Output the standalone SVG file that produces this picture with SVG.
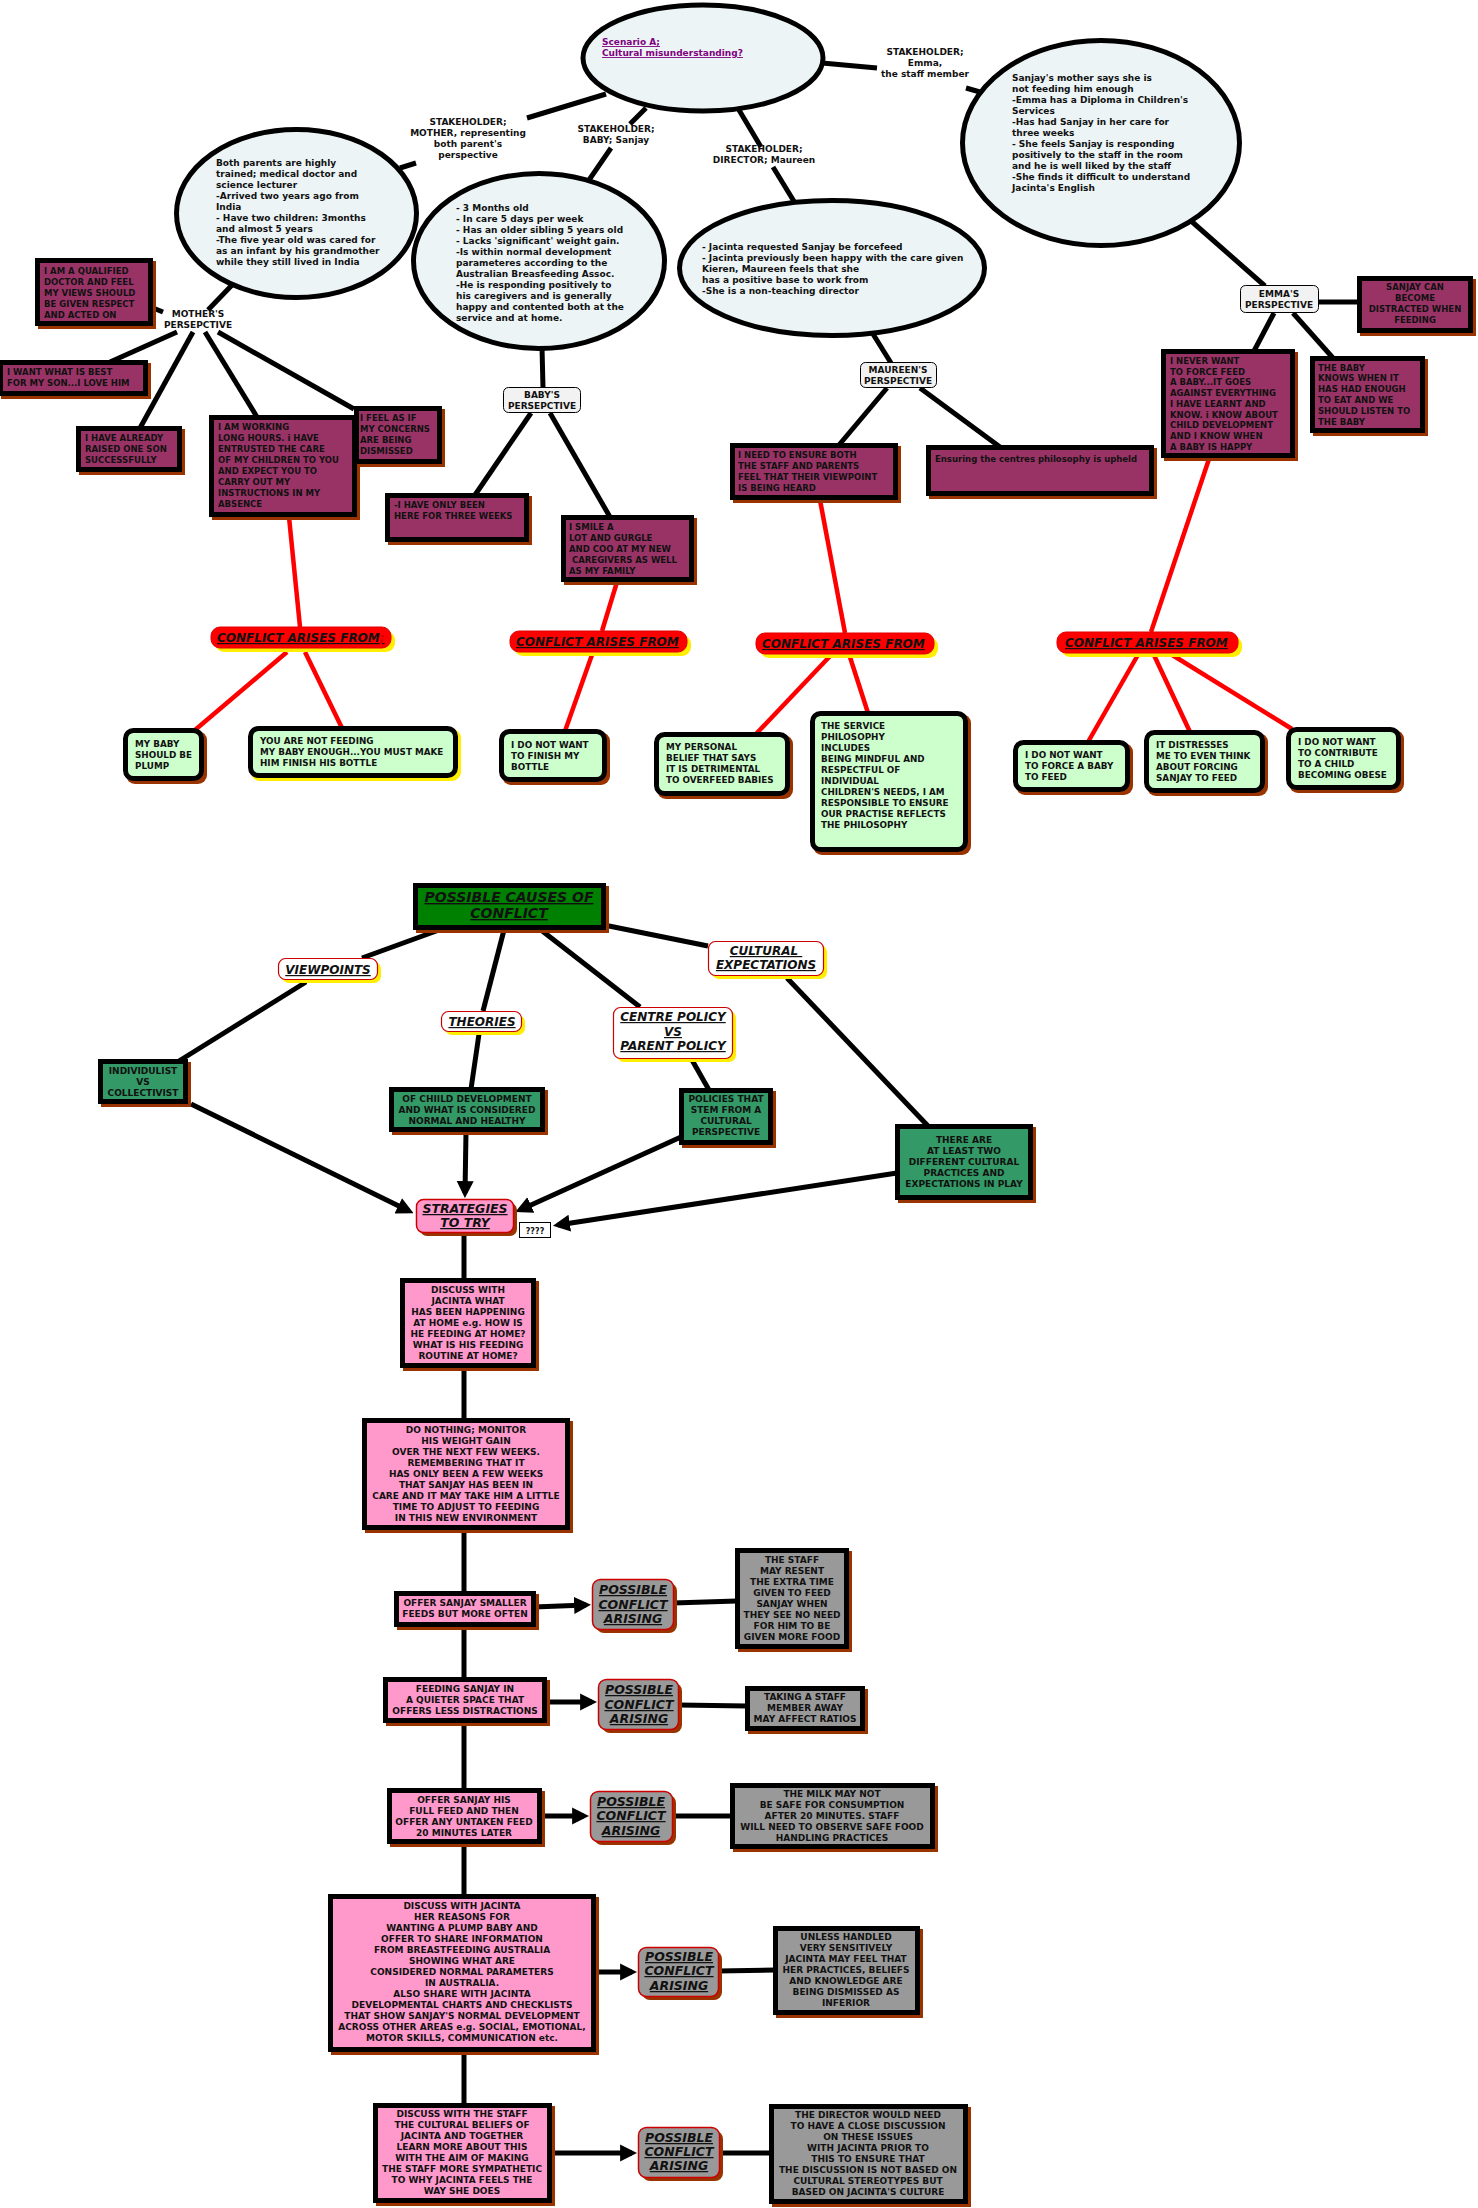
<svg xmlns="http://www.w3.org/2000/svg" width="1478" height="2208" viewBox="0 0 1478 2208">
<defs>
<style>
.ln{stroke:#000;stroke-width:5;fill:none}
.rl{stroke:#ff0000;stroke-width:4.5;fill:none}
.ell{fill:#ecf4f6;stroke:#000;stroke-width:5}
.pur{fill:#993366;stroke:#000;stroke-width:5}
.grn{fill:#ccffcc;stroke:#000;stroke-width:5}
.dg{fill:#339966;stroke:#000;stroke-width:5}
.cau{fill:#008000;stroke:#000;stroke-width:5}
.pk{fill:#ff99cc;stroke:#000;stroke-width:5}
.gy{fill:#999999;stroke:#000;stroke-width:5}
.sh{fill:#993300}
.shy{fill:#ffee00}
.con{fill:#ff0000;stroke:#e00000;stroke-width:1}
.per{fill:#f2f2f2;stroke:#000;stroke-width:1}
.cat{fill:#fff;stroke:#cc0000;stroke-width:1.2}
.pca{fill:#999999;stroke:#cc0000;stroke-width:1.5}
.str{fill:#ff99cc;stroke:#cc0000;stroke-width:1.5}
.q{fill:#fff;stroke:#000;stroke-width:1}
.t{font-family:"DejaVu Sans",Verdana,sans-serif;font-weight:bold;font-size:9px;fill:#111}
.p{font-size:8.5px}
.g{font-size:8.8px}
.c{text-anchor:middle}
.hd{font-style:italic;text-decoration:underline}
.f12{font-size:12px}
.f125{font-size:12.5px}
.f14{font-size:14px}
.ttl{fill:#800080;text-decoration:underline}
</style>
<marker id="ah" viewBox="0 0 10 10" markerUnits="userSpaceOnUse" markerWidth="17" markerHeight="19" refX="7" refY="5" orient="auto">
<path d="M0,0 L10,5 L0,10 z" fill="#000"/>
</marker>
</defs>
<rect width="1478" height="2208" fill="#fff"/>

<g id="connectors">
<path class="ln" d="M606,94 L527,118"/>
<path class="ln" d="M416,163 L400,168"/>
<path class="ln" d="M646,108 L630,124"/>
<path class="ln" d="M611,148 L589,180"/>
<path class="ln" d="M739,110 L761,147"/>
<path class="ln" d="M773,167 L795,203"/>
<path class="ln" d="M822,63 L877,68"/>
<path class="ln" d="M966,88 L980,92"/>
<path class="ln" d="M232,285 L208,310"/>
<path class="ln" d="M153,308 L163,312"/>
<path class="ln" d="M177,332 L110,362"/>
<path class="ln" d="M193,332 L140,428"/>
<path class="ln" d="M205,332 L257,417"/>
<path class="ln" d="M218,332 L354,409"/>
<path class="ln" d="M542,347 L543,388"/>
<path class="ln" d="M531,413 L475,495"/>
<path class="ln" d="M550,413 L610,517"/>
<path class="ln" d="M873,334 L891,363"/>
<path class="ln" d="M887,388 L839,445"/>
<path class="ln" d="M920,388 L1000,447"/>
<path class="ln" d="M1190,220 L1265,286"/>
<path class="ln" d="M1319,302 L1359,302"/>
<path class="ln" d="M1274,313 L1254,351"/>
<path class="ln" d="M1293,313 L1333,358"/>
<path class="rl" d="M289,517 L300,627"/>
<path class="rl" d="M287,652 L195,730"/>
<path class="rl" d="M305,652 L342,728"/>
<path class="rl" d="M617,582 L602,631"/>
<path class="rl" d="M593,652 L565,731"/>
<path class="rl" d="M820,500 L845,633"/>
<path class="rl" d="M832,654 L756,734"/>
<path class="rl" d="M849,654 L868,713"/>
<path class="rl" d="M1210,456 L1151,632"/>
<path class="rl" d="M1139,653 L1088,742"/>
<path class="rl" d="M1153,653 L1190,732"/>
<path class="rl" d="M1169,653 L1292,729"/>
<path class="ln" d="M439,930 L362,958"/>
<path class="ln" d="M306,982 L179,1061"/>
<path class="ln" d="M504,930 L483,1011"/>
<path class="ln" d="M479,1034 L471,1089"/>
<path class="ln" d="M541,930 L640,1007"/>
<path class="ln" d="M692,1060 L709,1090"/>
<path class="ln" d="M604,925 L708,946"/>
<path class="ln" d="M787,978 L928,1126"/>
<path class="ln" d="M191,1104 L409,1211" marker-end="url(#ah)"/>
<path class="ln" d="M466,1132 L465,1193" marker-end="url(#ah)"/>
<path class="ln" d="M681,1137 L520,1210" marker-end="url(#ah)"/>
<path class="ln" d="M897,1173 L558,1225" marker-end="url(#ah)"/>
<path class="ln" d="M464,1233 L464,2105"/>
<path class="ln" d="M534,1607 L586,1605" marker-end="url(#ah)"/>
<path class="ln" d="M545,1702 L592,1702" marker-end="url(#ah)"/>
<path class="ln" d="M540,1816 L584,1816" marker-end="url(#ah)"/>
<path class="ln" d="M594,1972 L632,1972" marker-end="url(#ah)"/>
<path class="ln" d="M550,2153 L632,2153" marker-end="url(#ah)"/>
<path class="ln" d="M673,1603 L737,1601"/>
<path class="ln" d="M678,1705 L747,1706"/>
<path class="ln" d="M672,1816 L732,1816"/>
<path class="ln" d="M718,1971 L775,1970"/>
<path class="ln" d="M719,2153 L771,2153"/>
</g>

<g id="scenario">
<ellipse class="ell" cx="703" cy="58" rx="120" ry="53"/>
<text class="t ttl"><tspan x="602" y="45">Scenario A;</tspan><tspan x="602" y="56">Cultural misunderstanding?</tspan></text>
</g>

<g id="stakeholder-mother">
<text class="t c"><tspan x="468" y="125">STAKEHOLDER;</tspan><tspan x="468" y="136">MOTHER, representing</tspan><tspan x="468" y="147">both parent's</tspan><tspan x="468" y="158">perspective</tspan></text>
</g>
<g id="stakeholder-baby">
<text class="t c"><tspan x="616" y="132">STAKEHOLDER;</tspan><tspan x="616" y="143">BABY; Sanjay</tspan></text>
</g>
<g id="stakeholder-director">
<text class="t c"><tspan x="764" y="152">STAKEHOLDER;</tspan><tspan x="764" y="163">DIRECTOR; Maureen</tspan></text>
</g>
<g id="stakeholder-emma">
<text class="t c"><tspan x="925" y="55">STAKEHOLDER;</tspan><tspan x="925" y="66">Emma,</tspan><tspan x="925" y="77">the staff member</tspan></text>
</g>

<g id="mother-info">
<ellipse class="ell" cx="296.5" cy="213.5" rx="120" ry="84"/>
<text class="t"><tspan x="216" y="166">Both parents are highly</tspan><tspan x="216" y="177">trained; medical doctor and</tspan><tspan x="216" y="188">science lecturer</tspan><tspan x="216" y="199">-Arrived two years ago from</tspan><tspan x="216" y="210">India</tspan><tspan x="216" y="221">- Have two children: 3months</tspan><tspan x="216" y="232">and almost 5 years</tspan><tspan x="216" y="243">-The five year old was cared for</tspan><tspan x="216" y="254">as an infant by his grandmother</tspan><tspan x="216" y="265">while they still lived in India</tspan></text>
</g>

<g id="baby-info">
<ellipse class="ell" cx="539" cy="261" rx="125.5" ry="87.5"/>
<text class="t"><tspan x="456" y="211">- 3 Months old</tspan><tspan x="456" y="222">- In care 5 days per week</tspan><tspan x="456" y="233">- Has an older sibling 5 years old</tspan><tspan x="456" y="244">- Lacks 'significant' weight gain.</tspan><tspan x="456" y="255">-Is within normal development</tspan><tspan x="456" y="266">parameteres according to the</tspan><tspan x="456" y="277">Australian Breasfeeding Assoc.</tspan><tspan x="456" y="288">-He is responding positively to</tspan><tspan x="456" y="299">his caregivers and is generally</tspan><tspan x="456" y="310">happy and contented both at the</tspan><tspan x="456" y="321">service and at home.</tspan></text>
</g>

<g id="director-info">
<ellipse class="ell" cx="832" cy="268" rx="152.5" ry="67.5"/>
<text class="t"><tspan x="702" y="250">- Jacinta requested Sanjay be forcefeed</tspan><tspan x="702" y="261">- Jacinta previously been happy with the care given</tspan><tspan x="702" y="272">Kieren, Maureen feels that she</tspan><tspan x="702" y="283">has a positive base to work from</tspan><tspan x="702" y="294">-She is a non-teaching director</tspan></text>
</g>

<g id="emma-info">
<ellipse class="ell" cx="1101" cy="143" rx="138.5" ry="102.5"/>
<text class="t"><tspan x="1012" y="81">Sanjay's mother says she is</tspan><tspan x="1012" y="92">not feeding him enough</tspan><tspan x="1012" y="103">-Emma has a Diploma in Children's</tspan><tspan x="1012" y="114">Services</tspan><tspan x="1012" y="125">-Has had Sanjay in her care for</tspan><tspan x="1012" y="136">three weeks</tspan><tspan x="1012" y="147">- She feels Sanjay is responding</tspan><tspan x="1012" y="158">positively to the staff in the room</tspan><tspan x="1012" y="169">and he is well liked by the staff</tspan><tspan x="1012" y="180">-She finds it difficult to understand</tspan><tspan x="1012" y="191">Jacinta's English</tspan></text>
</g>

<g id="mothers-perspective">
<text class="t c"><tspan x="198" y="317">MOTHER'S</tspan><tspan x="198" y="328">PERSEPCTIVE</tspan></text>
</g>
<g id="babys-perspective">
<rect class="per" x="503.5" y="387.5" width="77" height="25" rx="5"/>
<text class="t c"><tspan x="542" y="398">BABY'S</tspan><tspan x="542" y="409">PERSEPCTIVE</tspan></text>
</g>
<g id="maureens-perspective">
<rect class="per" x="860.5" y="362.5" width="76" height="25" rx="5"/>
<text class="t c"><tspan x="898" y="373">MAUREEN'S</tspan><tspan x="898" y="384">PERSPECTIVE</tspan></text>
</g>
<g id="emmas-perspective">
<rect class="per" x="1240.5" y="285.5" width="78" height="27" rx="5"/>
<text class="t c"><tspan x="1279" y="297">EMMA'S</tspan><tspan x="1279" y="308">PERSPECTIVE</tspan></text>
</g>

<g id="m-qualified">
<rect class="sh" x="38" y="261" width="118" height="68"/>
<rect class="pur" x="37.5" y="260.5" width="113" height="63"/>
<text class="t p"><tspan x="44" y="274">I AM A QUALIFIED</tspan><tspan x="44" y="285">DOCTOR AND FEEL</tspan><tspan x="44" y="296">MY VIEWS SHOULD</tspan><tspan x="44" y="307">BE GIVEN RESPECT</tspan><tspan x="44" y="318">AND ACTED ON</tspan></text>
</g>
<g id="m-best">
<rect class="sh" x="1" y="363" width="150" height="36"/>
<rect class="pur" x="0.5" y="362.5" width="145" height="31"/>
<text class="t p"><tspan x="7" y="375">I WANT WHAT IS BEST</tspan><tspan x="7" y="386">FOR MY SON...I LOVE HIM</tspan></text>
</g>
<g id="m-raised">
<rect class="sh" x="79" y="429" width="106" height="46"/>
<rect class="pur" x="78.5" y="428.5" width="101" height="41"/>
<text class="t p"><tspan x="85" y="441">I HAVE ALREADY</tspan><tspan x="85" y="452">RAISED ONE SON</tspan><tspan x="85" y="463">SUCCESSFULLY</tspan></text>
</g>
<g id="m-working">
<rect class="sh" x="212" y="418" width="148" height="102"/>
<rect class="pur" x="211.5" y="417.5" width="143" height="97"/>
<text class="t p"><tspan x="218" y="430">I AM WORKING</tspan><tspan x="218" y="441">LONG HOURS. i HAVE</tspan><tspan x="218" y="452">ENTRUSTED THE CARE</tspan><tspan x="218" y="463">OF MY CHILDREN TO YOU</tspan><tspan x="218" y="474">AND EXPECT YOU TO</tspan><tspan x="218" y="485">CARRY OUT MY</tspan><tspan x="218" y="496">INSTRUCTIONS IN MY</tspan><tspan x="218" y="507">ABSENCE</tspan></text>
</g>
<g id="m-dismissed">
<rect class="sh" x="357" y="409" width="88" height="58"/>
<rect class="pur" x="356.5" y="408.5" width="83" height="53"/>
<text class="t p"><tspan x="360" y="421">I FEEL AS IF</tspan><tspan x="360" y="432">MY CONCERNS</tspan><tspan x="360" y="443">ARE BEING</tspan><tspan x="360" y="454">DISMISSED</tspan></text>
</g>
<g id="b-three-weeks">
<rect class="sh" x="388" y="496" width="144" height="49"/>
<rect class="pur" x="387.5" y="495.5" width="139" height="44"/>
<text class="t p"><tspan x="394" y="508">-I HAVE ONLY BEEN</tspan><tspan x="394" y="519">HERE FOR THREE WEEKS</tspan></text>
</g>
<g id="b-smile">
<rect class="sh" x="564" y="518" width="133" height="67"/>
<rect class="pur" x="563.5" y="517.5" width="128" height="62"/>
<text class="t p"><tspan x="569" y="530">I SMILE A</tspan><tspan x="569" y="541">LOT AND GURGLE</tspan><tspan x="569" y="552">AND COO AT MY NEW</tspan><tspan x="569" y="563"> CAREGIVERS AS WELL</tspan><tspan x="569" y="574">AS MY FAMILY</tspan></text>
</g>
<g id="d-heard">
<rect class="sh" x="733" y="446" width="168" height="57"/>
<rect class="pur" x="732.5" y="445.5" width="163" height="52"/>
<text class="t p"><tspan x="738" y="458">I NEED TO ENSURE BOTH</tspan><tspan x="738" y="469">THE STAFF AND PARENTS</tspan><tspan x="738" y="480">FEEL THAT THEIR VIEWPOINT</tspan><tspan x="738" y="491">IS BEING HEARD</tspan></text>
</g>
<g id="d-philosophy">
<rect class="sh" x="929" y="448" width="228" height="51"/>
<rect class="pur" x="928.5" y="447.5" width="223" height="46"/>
<text class="t p"><tspan x="935" y="462">Ensuring the centres philosophy is upheld</tspan></text>
</g>
<g id="e-never">
<rect class="sh" x="1164" y="352" width="134" height="109"/>
<rect class="pur" x="1163.5" y="351.5" width="129" height="104"/>
<text class="t p"><tspan x="1170" y="364">I NEVER WANT</tspan><tspan x="1170" y="375">TO FORCE FEED</tspan><tspan x="1170" y="385">A BABY...IT GOES</tspan><tspan x="1170" y="396">AGAINST EVERYTHING</tspan><tspan x="1170" y="407">I HAVE LEARNT AND</tspan><tspan x="1170" y="418">KNOW. i KNOW ABOUT</tspan><tspan x="1170" y="428">CHILD DEVELOPMENT</tspan><tspan x="1170" y="439">AND I KNOW WHEN</tspan><tspan x="1170" y="450">A BABY IS HAPPY</tspan></text>
</g>
<g id="e-knows">
<rect class="sh" x="1313" y="359" width="115" height="77"/>
<rect class="pur" x="1312.5" y="358.5" width="110" height="72"/>
<text class="t p"><tspan x="1318" y="371">THE BABY</tspan><tspan x="1318" y="381">KNOWS WHEN IT</tspan><tspan x="1318" y="392">HAS HAD ENOUGH</tspan><tspan x="1318" y="403">TO EAT AND WE</tspan><tspan x="1318" y="414">SHOULD LISTEN TO</tspan><tspan x="1318" y="425">THE BABY</tspan></text>
</g>
<g id="e-distracted">
<rect class="sh" x="1360" y="279" width="116" height="57"/>
<rect class="pur" x="1359.5" y="278.5" width="111" height="52"/>
<text class="t p c"><tspan x="1415" y="290">SANJAY CAN</tspan><tspan x="1415" y="301">BECOME</tspan><tspan x="1415" y="312">DISTRACTED WHEN</tspan><tspan x="1415" y="323">FEEDING</tspan></text>
</g>

<g id="conflict-1">
<rect class="shy" x="215" y="631" width="180" height="21" rx="9"/>
<rect class="con" x="211" y="627" width="180" height="21" rx="9"/>
<text class="t hd f12" x="217" y="642" fill="#1a0000">CONFLICT ARISES FROM<tspan fill="#cc0000" style="text-decoration:none">;</tspan></text>
</g>
<g id="conflict-2">
<rect class="shy" x="514" y="635" width="177" height="21" rx="9"/>
<rect class="con" x="510" y="631" width="177" height="21" rx="9"/>
<text class="t hd f12" x="516" y="646">CONFLICT ARISES FROM</text>
</g>
<g id="conflict-3">
<rect class="shy" x="760" y="637" width="178" height="21" rx="9"/>
<rect class="con" x="756" y="633" width="178" height="21" rx="9"/>
<text class="t hd f12" x="762" y="648">CONFLICT ARISES FROM</text>
</g>
<g id="conflict-4">
<rect class="shy" x="1061" y="636" width="181" height="21" rx="9"/>
<rect class="con" x="1057" y="632" width="181" height="21" rx="9"/>
<text class="t hd f12" x="1065" y="647">CONFLICT ARISES FROM</text>
</g>

<g id="c-plump">
<rect class="sh" x="126" y="731" width="81" height="53" rx="9"/>
<rect class="grn" x="125.5" y="730.5" width="76" height="48" rx="8"/>
<text class="t g"><tspan x="135" y="747">MY BABY</tspan><tspan x="135" y="758">SHOULD BE</tspan><tspan x="135" y="769">PLUMP</tspan></text>
</g>
<g id="c-not-feeding">
<rect class="shy" x="251" y="729" width="210" height="52" rx="9"/>
<rect class="grn" x="250.5" y="728.5" width="205" height="47" rx="8"/>
<text class="t g"><tspan x="260" y="744">YOU ARE NOT FEEDING</tspan><tspan x="260" y="755">MY BABY ENOUGH...YOU MUST MAKE</tspan><tspan x="260" y="766">HIM FINISH HIS BOTTLE</tspan></text>
</g>
<g id="c-bottle">
<rect class="sh" x="502" y="732" width="108" height="53" rx="9"/>
<rect class="grn" x="501.5" y="731.5" width="103" height="48" rx="8"/>
<text class="t g"><tspan x="511" y="748">I DO NOT WANT</tspan><tspan x="511" y="759">TO FINISH MY</tspan><tspan x="511" y="770">BOTTLE</tspan></text>
</g>
<g id="c-personal">
<rect class="sh" x="657" y="735" width="136" height="64" rx="9"/>
<rect class="grn" x="656.5" y="734.5" width="131" height="59" rx="8"/>
<text class="t g"><tspan x="666" y="750">MY PERSONAL</tspan><tspan x="666" y="761">BELIEF THAT SAYS</tspan><tspan x="666" y="772">IT IS DETRIMENTAL</tspan><tspan x="666" y="783">TO OVERFEED BABIES</tspan></text>
</g>
<g id="c-service">
<rect class="sh" x="813" y="714" width="158" height="141" rx="9"/>
<rect class="grn" x="812.5" y="713.5" width="153" height="136" rx="8"/>
<text class="t g"><tspan x="821" y="729">THE SERVICE</tspan><tspan x="821" y="740">PHILOSOPHY</tspan><tspan x="821" y="751">INCLUDES</tspan><tspan x="821" y="762">BEING MINDFUL AND</tspan><tspan x="821" y="773">RESPECTFUL OF</tspan><tspan x="821" y="784">INDIVIDUAL</tspan><tspan x="821" y="795">CHILDREN'S NEEDS, I AM</tspan><tspan x="821" y="806">RESPONSIBLE TO ENSURE</tspan><tspan x="821" y="817">OUR PRACTISE REFLECTS</tspan><tspan x="821" y="828">THE PHILOSOPHY</tspan></text>
</g>
<g id="c-force">
<rect class="sh" x="1016" y="743" width="117" height="52" rx="9"/>
<rect class="grn" x="1015.5" y="742.5" width="112" height="47" rx="8"/>
<text class="t g"><tspan x="1025" y="758">I DO NOT WANT</tspan><tspan x="1025" y="769">TO FORCE A BABY</tspan><tspan x="1025" y="780">TO FEED</tspan></text>
</g>
<g id="c-distresses">
<rect class="sh" x="1147" y="733" width="121" height="63" rx="9"/>
<rect class="grn" x="1146.5" y="732.5" width="116" height="58" rx="8"/>
<text class="t g"><tspan x="1156" y="748">IT DISTRESSES</tspan><tspan x="1156" y="759">ME TO EVEN THINK</tspan><tspan x="1156" y="770">ABOUT FORCING</tspan><tspan x="1156" y="781">SANJAY TO FEED</tspan></text>
</g>
<g id="c-obese">
<rect class="sh" x="1289" y="730" width="115" height="63" rx="9"/>
<rect class="grn" x="1288.5" y="729.5" width="110" height="58" rx="8"/>
<text class="t g"><tspan x="1298" y="745">I DO NOT WANT</tspan><tspan x="1298" y="756">TO CONTRIBUTE</tspan><tspan x="1298" y="767">TO A CHILD</tspan><tspan x="1298" y="778">BECOMING OBESE</tspan></text>
</g>

<g id="possible-causes">
<rect class="sh" x="416" y="886" width="193" height="47"/>
<rect class="cau" x="415.5" y="885.5" width="188" height="42"/>
<text class="t hd f14 c" fill="#111"><tspan x="509" y="902">POSSIBLE CAUSES OF</tspan><tspan x="509" y="918">CONFLICT</tspan></text>
</g>
<g id="viewpoints">
<rect class="shy" x="282" y="962" width="99" height="21" rx="7"/>
<rect class="cat" x="278.5" y="958.5" width="99" height="21" rx="7"/>
<text class="t hd f12 c" x="328" y="974">VIEWPOINTS</text>
</g>
<g id="theories">
<rect class="shy" x="445" y="1015" width="80" height="20" rx="7"/>
<rect class="cat" x="441.5" y="1011.5" width="80" height="20" rx="7"/>
<text class="t hd f12 c" x="482" y="1026">THEORIES</text>
</g>
<g id="centre-policy">
<rect class="shy" x="617" y="1011" width="119" height="51" rx="7"/>
<rect class="cat" x="613.5" y="1007.5" width="119" height="51" rx="7"/>
<text class="t hd f12 c"><tspan x="673" y="1021">CENTRE POLICY</tspan><tspan x="673" y="1036">VS</tspan><tspan x="673" y="1050">PARENT POLICY</tspan></text>
</g>
<g id="cultural-expectations">
<rect class="shy" x="712" y="945" width="115" height="34" rx="7"/>
<rect class="cat" x="708.5" y="941.5" width="115" height="34" rx="7"/>
<text class="t hd f12 c"><tspan x="766" y="955">CULTURAL </tspan><tspan x="766" y="969">EXPECTATIONS</tspan></text>
</g>
<g id="individulist">
<rect class="sh" x="101" y="1062" width="90" height="45"/>
<rect class="dg" x="100.5" y="1061.5" width="85" height="40"/>
<text class="t c"><tspan x="143" y="1074">INDIVIDULIST</tspan><tspan x="143" y="1085">VS</tspan><tspan x="143" y="1096">COLLECTIVIST</tspan></text>
</g>
<g id="child-development">
<rect class="sh" x="392" y="1090" width="156" height="45"/>
<rect class="dg" x="391.5" y="1089.5" width="151" height="40"/>
<text class="t c"><tspan x="467" y="1102">OF CHIILD DEVELOPMENT</tspan><tspan x="467" y="1113">AND WHAT IS CONSIDERED</tspan><tspan x="467" y="1124">NORMAL AND HEALTHY</tspan></text>
</g>
<g id="policies">
<rect class="sh" x="682" y="1091" width="94" height="57"/>
<rect class="dg" x="681.5" y="1090.5" width="89" height="52"/>
<text class="t c"><tspan x="726" y="1102">POLICIES THAT</tspan><tspan x="726" y="1113">STEM FROM A</tspan><tspan x="726" y="1124">CULTURAL</tspan><tspan x="726" y="1135">PERSPECTIVE</tspan></text>
</g>
<g id="there-are">
<rect class="sh" x="898" y="1127" width="138" height="76"/>
<rect class="dg" x="897.5" y="1126.5" width="133" height="71"/>
<text class="t c"><tspan x="964" y="1143">THERE ARE</tspan><tspan x="964" y="1154">AT LEAST TWO</tspan><tspan x="964" y="1165">DIFFERENT CULTURAL</tspan><tspan x="964" y="1176">PRACTICES AND</tspan><tspan x="964" y="1187">EXPECTATIONS IN PLAY</tspan></text>
</g>
<g id="strategies">
<rect class="sh" x="420" y="1203" width="97" height="33" rx="7"/>
<rect class="str" x="416.5" y="1199.5" width="97" height="33" rx="7"/>
<text class="t hd f125 c"><tspan x="465" y="1213">STRATEGIES</tspan><tspan x="465" y="1227">TO TRY</tspan></text>
</g>
<g id="unknown">
<rect class="q" x="519.5" y="1222.5" width="31" height="15"/>
<text class="t c" x="535" y="1234" style="font-size:8px">????</text>
</g>

<g id="s-discuss-home">
<rect class="sh" x="403" y="1281" width="136" height="90"/>
<rect class="pk" x="402.5" y="1280.5" width="131" height="85"/>
<text class="t c"><tspan x="468" y="1293">DISCUSS WITH</tspan><tspan x="468" y="1304">JACINTA WHAT</tspan><tspan x="468" y="1315">HAS BEEN HAPPENING</tspan><tspan x="468" y="1326">AT HOME e.g. HOW IS</tspan><tspan x="468" y="1337">HE FEEDING AT HOME?</tspan><tspan x="468" y="1348">WHAT IS HIS FEEDING</tspan><tspan x="468" y="1359">ROUTINE AT HOME?</tspan></text>
</g>
<g id="s-do-nothing">
<rect class="sh" x="365" y="1421" width="208" height="112"/>
<rect class="pk" x="364.5" y="1420.5" width="203" height="107"/>
<text class="t c"><tspan x="466" y="1433">DO NOTHING; MONITOR</tspan><tspan x="466" y="1444">HIS WEIGHT GAIN</tspan><tspan x="466" y="1455">OVER THE NEXT FEW WEEKS.</tspan><tspan x="466" y="1466">REMEMBERING THAT IT</tspan><tspan x="466" y="1477">HAS ONLY BEEN A FEW WEEKS</tspan><tspan x="466" y="1488">THAT SANJAY HAS BEEN IN</tspan><tspan x="466" y="1499">CARE AND IT MAY TAKE HIM A LITTLE</tspan><tspan x="466" y="1510">TIME TO ADJUST TO FEEDING</tspan><tspan x="466" y="1521">IN THIS NEW ENVIRONMENT</tspan></text>
</g>
<g id="s-smaller-feeds">
<rect class="sh" x="397" y="1594" width="142" height="36"/>
<rect class="pk" x="396.5" y="1593.5" width="137" height="31"/>
<text class="t c"><tspan x="465" y="1606">OFFER SANJAY SMALLER</tspan><tspan x="465" y="1617">FEEDS BUT MORE OFTEN</tspan></text>
</g>
<g id="s-quieter">
<rect class="sh" x="386" y="1680" width="164" height="46"/>
<rect class="pk" x="385.5" y="1679.5" width="159" height="41"/>
<text class="t c"><tspan x="465" y="1692">FEEDING SANJAY IN</tspan><tspan x="465" y="1703">A QUIETER SPACE THAT</tspan><tspan x="465" y="1714">OFFERS LESS DISTRACTIONS</tspan></text>
</g>
<g id="s-full-feed">
<rect class="sh" x="390" y="1791" width="155" height="56"/>
<rect class="pk" x="389.5" y="1790.5" width="150" height="51"/>
<text class="t c"><tspan x="464" y="1803">OFFER SANJAY HIS</tspan><tspan x="464" y="1814">FULL FEED AND THEN</tspan><tspan x="464" y="1825">OFFER ANY UNTAKEN FEED</tspan><tspan x="464" y="1836">20 MINUTES LATER</tspan></text>
</g>
<g id="s-reasons">
<rect class="sh" x="331" y="1897" width="268" height="158"/>
<rect class="pk" x="330.5" y="1896.5" width="263" height="153"/>
<text class="t c"><tspan x="462" y="1909">DISCUSS WITH JACINTA</tspan><tspan x="462" y="1920">HER REASONS FOR</tspan><tspan x="462" y="1931">WANTING A PLUMP BABY AND</tspan><tspan x="462" y="1942">OFFER TO SHARE INFORMATION</tspan><tspan x="462" y="1953">FROM BREASTFEEDING AUSTRALIA</tspan><tspan x="462" y="1964">SHOWING WHAT ARE</tspan><tspan x="462" y="1975">CONSIDERED NORMAL PARAMETERS</tspan><tspan x="462" y="1986">IN AUSTRALIA.</tspan><tspan x="462" y="1997">ALSO SHARE WITH JACINTA</tspan><tspan x="462" y="2008">DEVELOPMENTAL CHARTS AND CHECKLISTS</tspan><tspan x="462" y="2019">THAT SHOW SANJAY'S NORMAL DEVELOPMENT</tspan><tspan x="462" y="2030">ACROSS OTHER AREAS e.g. SOCIAL, EMOTIONAL,</tspan><tspan x="462" y="2041">MOTOR SKILLS, COMMUNICATION etc.</tspan></text>
</g>
<g id="s-staff">
<rect class="sh" x="376" y="2106" width="179" height="100"/>
<rect class="pk" x="375.5" y="2105.5" width="174" height="95"/>
<text class="t c"><tspan x="462" y="2117">DISCUSS WITH THE STAFF</tspan><tspan x="462" y="2128">THE CULTURAL BELIEFS OF</tspan><tspan x="462" y="2139">JACINTA AND TOGETHER</tspan><tspan x="462" y="2150">LEARN MORE ABOUT THIS</tspan><tspan x="462" y="2161">WITH THE AIM OF MAKING</tspan><tspan x="462" y="2172">THE STAFF MORE SYMPATHETIC</tspan><tspan x="462" y="2183">TO WHY JACINTA FEELS THE</tspan><tspan x="462" y="2194">WAY SHE DOES</tspan></text>
</g>

<g id="pca-1">
<rect class="sh" x="596" y="1583" width="81" height="50" rx="8"/>
<rect class="pca" x="592.5" y="1579.5" width="81" height="50" rx="8"/>
<text class="t hd f125 c"><tspan x="633" y="1594">POSSIBLE</tspan><tspan x="633" y="1609">CONFLICT</tspan><tspan x="633" y="1623">ARISING</tspan></text>
</g>
<g id="pca-2">
<rect class="sh" x="602" y="1683" width="80" height="50" rx="8"/>
<rect class="pca" x="598.5" y="1679.5" width="80" height="50" rx="8"/>
<text class="t hd f125 c"><tspan x="639" y="1694">POSSIBLE</tspan><tspan x="639" y="1709">CONFLICT</tspan><tspan x="639" y="1723">ARISING</tspan></text>
</g>
<g id="pca-3">
<rect class="sh" x="594" y="1795" width="82" height="50" rx="8"/>
<rect class="pca" x="590.5" y="1791.5" width="82" height="50" rx="8"/>
<text class="t hd f125 c"><tspan x="631" y="1806">POSSIBLE</tspan><tspan x="631" y="1820">CONFLICT</tspan><tspan x="631" y="1835">ARISING</tspan></text>
</g>
<g id="pca-4">
<rect class="sh" x="642" y="1951" width="80" height="49" rx="8"/>
<rect class="pca" x="638.5" y="1947.5" width="80" height="49" rx="8"/>
<text class="t hd f125 c"><tspan x="679" y="1961">POSSIBLE</tspan><tspan x="679" y="1975">CONFLICT</tspan><tspan x="679" y="1990">ARISING</tspan></text>
</g>
<g id="pca-5">
<rect class="sh" x="642" y="2131" width="81" height="50" rx="8"/>
<rect class="pca" x="638.5" y="2127.5" width="81" height="50" rx="8"/>
<text class="t hd f125 c"><tspan x="679" y="2142">POSSIBLE</tspan><tspan x="679" y="2156">CONFLICT</tspan><tspan x="679" y="2170">ARISING</tspan></text>
</g>

<g id="r-resent">
<rect class="sh" x="738" y="1551" width="114" height="101"/>
<rect class="gy" x="737.5" y="1550.5" width="109" height="96"/>
<text class="t c"><tspan x="792" y="1563">THE STAFF</tspan><tspan x="792" y="1574">MAY RESENT</tspan><tspan x="792" y="1585">THE EXTRA TIME</tspan><tspan x="792" y="1596">GIVEN TO FEED</tspan><tspan x="792" y="1607">SANJAY WHEN</tspan><tspan x="792" y="1618">THEY SEE NO NEED</tspan><tspan x="792" y="1629">FOR HIM TO BE</tspan><tspan x="792" y="1640">GIVEN MORE FOOD</tspan></text>
</g>
<g id="r-ratios">
<rect class="sh" x="748" y="1689" width="120" height="45"/>
<rect class="gy" x="747.5" y="1688.5" width="115" height="40"/>
<text class="t c"><tspan x="805" y="1700">TAKING A STAFF</tspan><tspan x="805" y="1711">MEMBER AWAY</tspan><tspan x="805" y="1722">MAY AFFECT RATIOS</tspan></text>
</g>
<g id="r-milk">
<rect class="sh" x="733" y="1786" width="205" height="66"/>
<rect class="gy" x="732.5" y="1785.5" width="200" height="61"/>
<text class="t c"><tspan x="832" y="1797">THE MILK MAY NOT</tspan><tspan x="832" y="1808">BE SAFE FOR CONSUMPTION</tspan><tspan x="832" y="1819">AFTER 20 MINUTES. STAFF</tspan><tspan x="832" y="1830">WILL NEED TO OBSERVE SAFE FOOD</tspan><tspan x="832" y="1841">HANDLING PRACTICES</tspan></text>
</g>
<g id="r-inferior">
<rect class="sh" x="776" y="1929" width="147" height="89"/>
<rect class="gy" x="775.5" y="1928.5" width="142" height="84"/>
<text class="t c"><tspan x="846" y="1940">UNLESS HANDLED</tspan><tspan x="846" y="1951">VERY SENSITIVELY</tspan><tspan x="846" y="1962">JACINTA MAY FEEL THAT</tspan><tspan x="846" y="1973">HER PRACTICES, BELIEFS</tspan><tspan x="846" y="1984">AND KNOWLEDGE ARE</tspan><tspan x="846" y="1995">BEING DISMISSED AS</tspan><tspan x="846" y="2006">INFERIOR</tspan></text>
</g>
<g id="r-director">
<rect class="sh" x="772" y="2107" width="199" height="100"/>
<rect class="gy" x="771.5" y="2106.5" width="194" height="95"/>
<text class="t c"><tspan x="868" y="2118">THE DIRECTOR WOULD NEED</tspan><tspan x="868" y="2129">TO HAVE A CLOSE DISCUSSION</tspan><tspan x="868" y="2140">ON THESE ISSUES</tspan><tspan x="868" y="2151">WITH JACINTA PRIOR TO</tspan><tspan x="868" y="2162">THIS TO ENSURE THAT</tspan><tspan x="868" y="2173">THE DISCUSSION IS NOT BASED ON</tspan><tspan x="868" y="2184">CULTURAL STEREOTYPES BUT</tspan><tspan x="868" y="2195">BASED ON JACINTA'S CULTURE</tspan></text>
</g>
</svg>
